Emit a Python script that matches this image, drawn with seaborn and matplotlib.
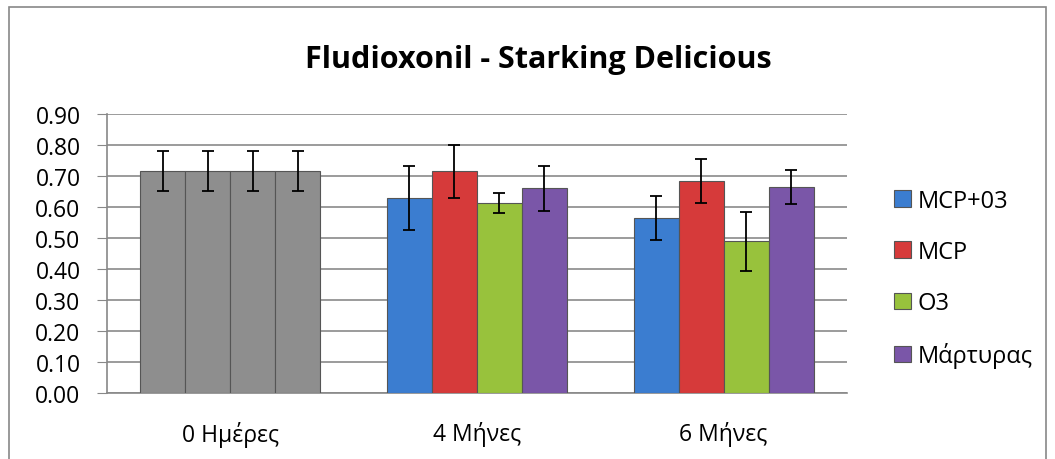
import numpy as np
import pandas as pd
import matplotlib
matplotlib.use("Agg")
import matplotlib.pyplot as plt
from matplotlib.patches import Rectangle
import seaborn as sns

# data
times = ["0 Ημέρες", "4 Μήνες", "6 Μήνες"]
treatments = ["MCP+03", "MCP", "O3", "Μάρτυρας"]
mcp_o3 = [0.716, 0.629, 0.565]
mcp = [0.716, 0.715, 0.684]
o3 = [0.716, 0.613, 0.490]
control = [0.716, 0.660, 0.665]
err_mcp_o3 = [0.066, 0.102, 0.072]
err_mcp = [0.066, 0.085, 0.072]
err_o3 = [0.066, 0.033, 0.095]
err_control = [0.066, 0.073, 0.055]

colors = ["#3b7dd0", "#d63a3a", "#98c23c", "#7a56a8"]
day0_color = "#8e8e8e"

means = [mcp_o3, mcp, o3, control]
errs = [err_mcp_o3, err_mcp, err_o3, err_control]

rows = []
for t, vals in zip(treatments, means):
    for c, v in zip(times, vals):
        rows.append({"time": c, "treatment": t, "value": v})
df = pd.DataFrame(rows)

sns.set_style("white")
plt.rcParams["font.family"] = ["Open Sans", "DejaVu Sans"]
plt.rcParams["text.color"] = "black"
plt.rcParams["xtick.color"] = "black"
plt.rcParams["ytick.color"] = "black"

fig = plt.figure(figsize=(10.55, 4.6), dpi=100)
ax = fig.add_axes([0.1014, 0.1435, 0.7014, 0.6065])

sns.barplot(data=df, x="time", y="value", hue="treatment", hue_order=treatments,
            order=times, palette=colors, errorbar=None, width=0.73, saturation=1,
            edgecolor="#555555", linewidth=0.8, ax=ax, zorder=3)

# day 0 bars are drawn grey for every treatment, then error bars
for cont, e in zip(ax.containers, errs):
    for j, bar in enumerate(cont):
        if j == 0:
            bar.set_facecolor(day0_color)
        ax.errorbar(bar.get_x() + bar.get_width() / 2, bar.get_height(), yerr=e[j],
                    fmt="none", ecolor="black", elinewidth=1.3, capsize=4,
                    capthick=1.3, zorder=4)

ax.set_ylim(0, 0.9)
ax.set_xlim(-0.5, 2.5)
ax.set_yticks(np.arange(0, 0.91, 0.1))
ax.set_yticklabels([f"{v:.2f}" for v in np.arange(0, 0.91, 0.1)], fontsize=16.5)
ax.set_xticks(range(3))
ax.set_xticklabels(times, fontsize=16.5)
ax.set_xticks([-0.5, 0.5, 1.5, 2.5], minor=True)
ax.tick_params(axis="x", which="major", length=0, pad=20)
ax.tick_params(axis="x", which="minor", length=7, color="#888888", direction="out")
ax.tick_params(axis="y", length=7, color="#888888", direction="out", left=True, pad=12)
ax.yaxis.grid(True, color="#8a8a8a", linewidth=1.2, zorder=0)
ax.set_axisbelow(True)
ax.set_xlabel("")
ax.set_ylabel("")
for side in ["top", "right"]:
    ax.spines[side].set_visible(False)
for side in ["left", "bottom"]:
    ax.spines[side].set_color("#888888")
    ax.spines[side].set_linewidth(1.2)

ax.legend(frameon=False, loc="center left", bbox_to_anchor=(1.035, 0.41),
          fontsize=17, handlelength=0.7, handleheight=0.7, handletextpad=0.3,
          labelspacing=1.15)

fig.suptitle("Fludioxonil - Starking Delicious", x=0.51, y=0.902,
             fontsize=22, fontweight="bold")

fig.patches.append(Rectangle((0.0085, -0.01), 0.983, 0.993, transform=fig.transFigure,
                             fill=False, edgecolor="#888888", linewidth=1.2))

fig.savefig("out.png", dpi=100)
